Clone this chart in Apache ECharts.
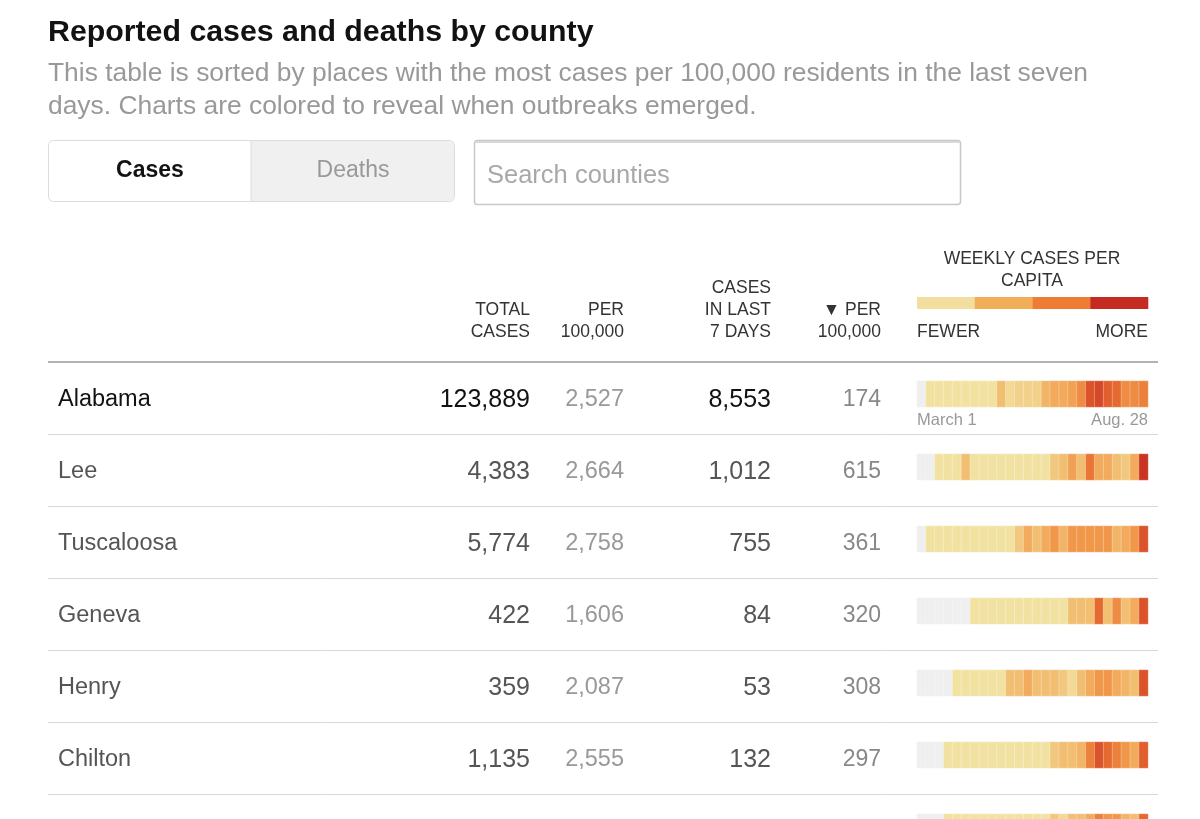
<!DOCTYPE html>
<html><head><meta charset="utf-8">
<script src="https://cdn.jsdelivr.net/npm/echarts@6/dist/echarts.min.js"></script>
<style>html,body{margin:0;padding:0;background:#fff}#c{width:1200px;height:819px}</style>
</head><body><div id="c"></div>
<script>
// ---- data ----
const counties = ['Alabama', 'Lee', 'Tuscaloosa', 'Geneva', 'Henry', 'Chilton'];
const totalCases = [123889, 4383, 5774, 422, 359, 1135];
const totalPer100k = [2527, 2664, 2758, 1606, 2087, 2555];
const casesLast7 = [8553, 1012, 755, 84, 53, 132];
const last7Per100k = [174, 615, 361, 320, 308, 297];
const weekLabels = ['March 1', 'Aug. 28'];
// weekly cases per capita level (0 = none, 10 = most), 26 weeks Mar 1 - Aug 28
const weeklyAlabama    = [0,1,1,1,1,1,1,1,1,3,1.5,2,2,2,3.5,4,4,4.5,5.5,8,8.5,7.5,7,5.5,5.5,6];
const weeklyLee        = [0,0,1,1,1,3,1,1,1,1,1,1,1,1,1,2.5,3,4.5,3,6.5,4,4,3,2.5,4,9.5];
const weeklyTuscaloosa = [0,1,1,1,1,1,1,1,1,1,1,2.5,4,3,4,5,3.5,5,5,5,5,5,3.5,4,5,8];
const weeklyGeneva     = [0,0,0,0,0,0,1,1,1,1,1,1,1,1,1,1,1,3,3,3,7,3,5.5,3,4,8];
const weeklyHenry      = [0,0,0,0,1,1,1,1,1,1,3,3,4,3,3,3,2.5,1.5,3,4,5,5,4,3.5,3,8];
const weeklyChilton    = [0,0,0,1,1,1,1,1,1,1,1,1,1,1,1,2.5,3,3,3.5,6,8,7,6,5,4,7.5];
const weeklyNextRow    = [0,0,0,1,1,1,1,1,1,1,1,1,1,1,1,2.5,1.5,3,3,4,6,5,5,3.5,3,7];
const colorStops = ['#efefef','#f2e2a2','#f2d18a','#f2bf72','#f2ab5c','#f0974a','#ec813b','#e56a30','#db532a','#cf3d25','#c52a20'];
const legendColors = ['#f2dfa0','#f2ad58','#ee7c32','#c52b21'];

const strips = [weeklyAlabama, weeklyLee, weeklyTuscaloosa, weeklyGeneva, weeklyHenry, weeklyChilton, weeklyNextRow];
const weeks = weeklyAlabama.map((_, i) => 'W' + (i + 1));
const fmt = n => n.toLocaleString('en-US');

// ---- layout ----
const FONT = '"Liberation Sans", Arial, sans-serif';
const stripLeft = 917, stripWidth = 231, stripH = 26;
const stripTops = [381, 454, 526, 598, 670, 742, 814];
const rowCenter = k => 400 + 72 * k;

const grids = [], xAxes = [], yAxes = [], series = [];
strips.forEach((vals, i) => {
  grids.push({ left: stripLeft, width: stripWidth, top: stripTops[i], height: stripH });
  xAxes.push({ type: 'category', gridIndex: i, data: weeks, show: false });
  yAxes.push({ type: 'category', gridIndex: i, data: ['r'], show: false });
  series.push({
    type: 'heatmap', xAxisIndex: i, yAxisIndex: i,
    data: vals.map((v, w) => [w, 0, v]),
    itemStyle: { borderColor: 'rgba(255,255,255,0.45)', borderWidth: 0.6 },
    emphasis: { disabled: true }, silent: true
  });
});

const g = [];
function txt(x, y, s, o) {
  g.push({ type: 'text', x, y, silent: true, style: Object.assign({
    text: s, font: '23.5px ' + FONT, fill: '#555', textAlign: 'left', textVerticalAlign: 'middle'
  }, o || {}) });
}
function line(x1, y1, x2, y2, c, w) {
  g.push({ type: 'line', silent: true, shape: { x1, y1, x2, y2 }, style: { stroke: c, lineWidth: w } });
}

// title + subtitle
txt(48, 33, 'Reported cases and deaths by county', { font: 'bold 30.3px ' + FONT, fill: '#121212' });
txt(48, 74, 'This table is sorted by places with the most cases per 100,000 residents in the last seven', { font: '26.4px ' + FONT, fill: '#999' });
txt(48, 107, 'days. Charts are colored to reveal when outbreaks emerged.', { font: '26.4px ' + FONT, fill: '#999' });

// toggle buttons
g.push({ type: 'rect', silent: true, shape: { x: 48.5, y: 140.5, width: 406, height: 61, r: 5 }, style: { fill: '#fff', stroke: '#dcdcdc', lineWidth: 1 } });
g.push({ type: 'rect', silent: true, shape: { x: 251, y: 141, width: 203, height: 60, r: [0, 5, 5, 0] }, style: { fill: '#f0f0f0' } });
line(251, 141, 251, 201, '#dcdcdc', 1);
txt(150, 171, 'Cases', { font: 'bold 23px ' + FONT, fill: '#121212', textAlign: 'center' });
txt(353, 171, 'Deaths', { font: '23px ' + FONT, fill: '#999', textAlign: 'center' });

// search box
g.push({ type: 'rect', silent: true, shape: { x: 474.5, y: 140.5, width: 486, height: 64, r: 3 }, style: { fill: '#fff', stroke: '#c8c8c8', lineWidth: 1.5 } });
line(476, 142, 959, 142, '#d8d8d8', 2);
txt(487, 176, 'Search counties', { font: '25.5px ' + FONT, fill: '#a8a8a8' });

// column headers
const H = { font: '17.5px ' + FONT, fill: '#333', textAlign: 'right' };
txt(530, 310, 'TOTAL', H); txt(530, 332, 'CASES', H);
txt(624, 310, 'PER', H); txt(624, 332, '100,000', H);
txt(771, 288, 'CASES', H); txt(771, 310, 'IN LAST', H); txt(771, 332, '7 DAYS', H);
txt(881, 310, '\u25BC PER', H); txt(881, 332, '100,000', H);
txt(1032, 259, 'WEEKLY CASES PER', Object.assign({}, H, { textAlign: 'center' }));
txt(1032, 281, 'CAPITA', Object.assign({}, H, { textAlign: 'center' }));
legendColors.forEach((c, i) => {
  g.push({ type: 'rect', silent: true, shape: { x: stripLeft + i * stripWidth / 4, y: 297, width: stripWidth / 4 + 0.3, height: 12 }, style: { fill: c } });
});
txt(917, 332, 'FEWER', Object.assign({}, H, { textAlign: 'left' }));
txt(1148, 332, 'MORE', H);

// table lines
line(48, 362, 1158, 362, '#999', 1.5);
for (let k = 0; k < 6; k++) line(48, 434.5 + 72 * k, 1158, 434.5 + 72 * k, '#d8d8d8', 1);

// rows
counties.forEach((name, k) => {
  const y = rowCenter(k);
  const strong = k === 0;
  const dark = strong ? '#121212' : '#555';
  txt(58, y, name, { fill: dark });
  txt(530, y, fmt(totalCases[k]), { fill: dark, textAlign: 'right', font: '25px ' + FONT });
  txt(624, y, fmt(totalPer100k[k]), { fill: '#999', textAlign: 'right', font: '23.5px ' + FONT });
  txt(771, y, fmt(casesLast7[k]), { fill: dark, textAlign: 'right', font: '25px ' + FONT });
  txt(881, y, fmt(last7Per100k[k]), { fill: '#888', textAlign: 'right', font: '23px ' + FONT });
});
txt(917, 420, weekLabels[0], { font: '16.5px ' + FONT, fill: '#999' });
txt(1148, 420, weekLabels[1], { font: '16.5px ' + FONT, fill: '#999', textAlign: 'right' });

const chart = echarts.init(document.getElementById('c'), null, { renderer: 'canvas' });
chart.setOption({
  animation: false,
  backgroundColor: '#fff',
  grid: grids, xAxis: xAxes, yAxis: yAxes,
  visualMap: { type: 'continuous', show: false, min: 0, max: 10, dimension: 2,
    seriesIndex: series.map((_, i) => i), inRange: { color: colorStops } },
  series,
  graphic: g
});
</script></body></html>
